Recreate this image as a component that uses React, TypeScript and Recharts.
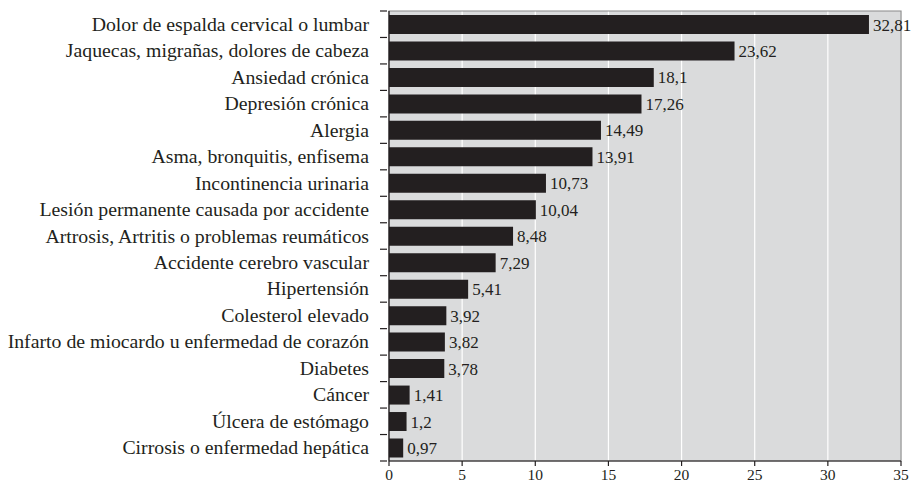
import React from "react";
import {
  Bar,
  BarChart,
  CartesianGrid,
  LabelList,
  ReferenceArea,
  XAxis,
  YAxis
} from "recharts";

const categories = [
  "Dolor de espalda cervical o lumbar",
  "Jaquecas, migrañas, dolores de cabeza",
  "Ansiedad crónica",
  "Depresión crónica",
  "Alergia",
  "Asma, bronquitis, enfisema",
  "Incontinencia urinaria",
  "Lesión permanente causada por accidente",
  "Artrosis, Artritis o problemas reumáticos",
  "Accidente cerebro vascular",
  "Hipertensión",
  "Colesterol elevado",
  "Infarto de miocardo u enfermedad de corazón",
  "Diabetes",
  "Cáncer",
  "Úlcera de estómago",
  "Cirrosis o enfermedad hepática"
];

const values = [
  32.81, 23.62, 18.1, 17.26, 14.49, 13.91, 10.73, 10.04, 8.48, 7.29, 5.41, 3.92,
  3.82, 3.78, 1.41, 1.2, 0.97
];

const xTicks = [0, 5, 10, 15, 20, 25, 30, 35];

const data = categories.map((name, i) => ({ name, value: values[i] }));

const WIDTH = 911;
const HEIGHT = 486;
const MARGIN = { top: 11, right: 10, bottom: 0, left: 0 };
const Y_AXIS_W = 389;
const X_AXIS_H = 25;
const BAND = (HEIGHT - MARGIN.top - MARGIN.bottom - X_AXIS_H) / categories.length;

const FONT = "'Liberation Serif', 'Times New Roman', serif";
const INK = "#231f20";

const fmt = (v: number) => String(v).replace(".", ",");

// category label plus a short tick at the top edge of its band
function CategoryTick(props: any) {
  const { x, y, payload, index } = props;
  const top = y - BAND / 2;
  const axisX = x + 6;
  return (
    <g>
      <line x1={axisX - 7} x2={axisX} y1={top} y2={top} stroke={INK} strokeWidth={1.2} />
      {index === categories.length - 1 ? (
        <line x1={axisX - 7} x2={axisX} y1={top + BAND} y2={top + BAND} stroke={INK} strokeWidth={1.2} />
      ) : null}
      <text
        x={axisX - 18}
        y={y}
        dy="0.33em"
        textAnchor="end"
        fill={INK}
        fontFamily={FONT}
        fontSize={19.8}
      >
        {payload.value}
      </text>
    </g>
  );
}

export default function App() {
  return (
    <div style={{ position: "absolute", left: 0, top: 0, background: "#fff" }}>
      <BarChart
        width={WIDTH}
        height={HEIGHT}
        data={data}
        layout="vertical"
        margin={MARGIN}
        barCategoryGap="15%"
      >
        <CartesianGrid
          horizontal={false}
          stroke="#ffffff"
          strokeWidth={1.2}
          fill="#dadbdc"
          fillOpacity={1}
        />
        <ReferenceArea x1={0} x2={35} fill="none" stroke="#8a8a8a" strokeWidth={1.2} ifOverflow="visible" />
        <XAxis
          type="number"
          domain={[0, 35]}
          ticks={xTicks}
          height={X_AXIS_H}
          stroke={INK}
          tickSize={5}
          tickLine={{ stroke: INK, strokeWidth: 1.2 }}
          axisLine={{ stroke: INK, strokeWidth: 1.2 }}
          tick={{ fill: INK, fontFamily: FONT, fontSize: 15.5 }}
          tickMargin={3}
        />
        <YAxis
          type="category"
          dataKey="name"
          width={Y_AXIS_W}
          interval={0}
          tickLine={false}
          axisLine={{ stroke: INK, strokeWidth: 1.2 }}
          tick={<CategoryTick />}
        />
        <Bar dataKey="value" fill={INK} isAnimationActive={false}>
          <LabelList
            dataKey="value"
            position="right"
            offset={4}
            formatter={(v: any) => fmt(Number(v))}
            fill={INK}
            fontFamily={FONT}
            fontSize={17}
          />
        </Bar>
      </BarChart>
    </div>
  );
}
